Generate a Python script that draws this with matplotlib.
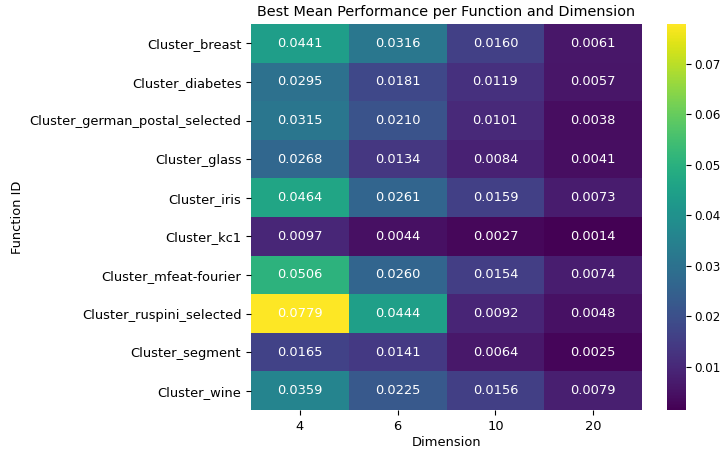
import numpy as np
import matplotlib.pyplot as plt

functions = ["Cluster_breast", "Cluster_diabetes", "Cluster_german_postal_selected",
             "Cluster_glass", "Cluster_iris", "Cluster_kc1", "Cluster_mfeat-fourier",
             "Cluster_ruspini_selected", "Cluster_segment", "Cluster_wine"]
dimensions = [4, 6, 10, 20]

perf = np.array([
    [0.0441, 0.0316, 0.0160, 0.0061],
    [0.0295, 0.0181, 0.0119, 0.0057],
    [0.0315, 0.0210, 0.0101, 0.0038],
    [0.0268, 0.0134, 0.0084, 0.0041],
    [0.0464, 0.0261, 0.0159, 0.0073],
    [0.0097, 0.0044, 0.0027, 0.0014],
    [0.0506, 0.0260, 0.0154, 0.0074],
    [0.0779, 0.0444, 0.0092, 0.0048],
    [0.0165, 0.0141, 0.0064, 0.0025],
    [0.0359, 0.0225, 0.0156, 0.0079],
])

fs = 9.4
fig = plt.figure(figsize=(7.25, 4.49), dpi=100)
ax = fig.add_axes([251/725, 1 - 410/449, 391/725, 386/449])
cax = fig.add_axes([667/725, 1 - 410/449, 19/725, 386/449])

mesh = ax.pcolormesh(perf, cmap="viridis")
ax.set_xlim(0, perf.shape[1])
ax.set_ylim(perf.shape[0], 0)

for i in range(perf.shape[0]):
    for j in range(perf.shape[1]):
        ax.text(j + 0.5, i + 0.5, f"{perf[i, j]:.4f}", ha="center", va="center",
                color="white", fontsize=fs)

ax.set_xticks(np.arange(len(dimensions)) + 0.5)
ax.set_xticklabels([str(d) for d in dimensions], fontsize=fs)
ax.set_yticks(np.arange(len(functions)) + 0.5)
ax.set_yticklabels(functions, fontsize=fs)
for s in ax.spines.values():
    s.set_visible(False)

ax.set_xlabel("Dimension", fontsize=fs, labelpad=2)
ax.set_ylabel("Function ID", fontsize=fs)
ax.set_title("Best Mean Performance per Function and Dimension", fontsize=10.4)

cb = fig.colorbar(mesh, cax=cax)
cb.outline.set_visible(False)
cb.set_ticks([0.01, 0.02, 0.03, 0.04, 0.05, 0.06, 0.07])
cax.tick_params(labelsize=8.6, pad=2.5)

fig.savefig("out.png", dpi=100)
